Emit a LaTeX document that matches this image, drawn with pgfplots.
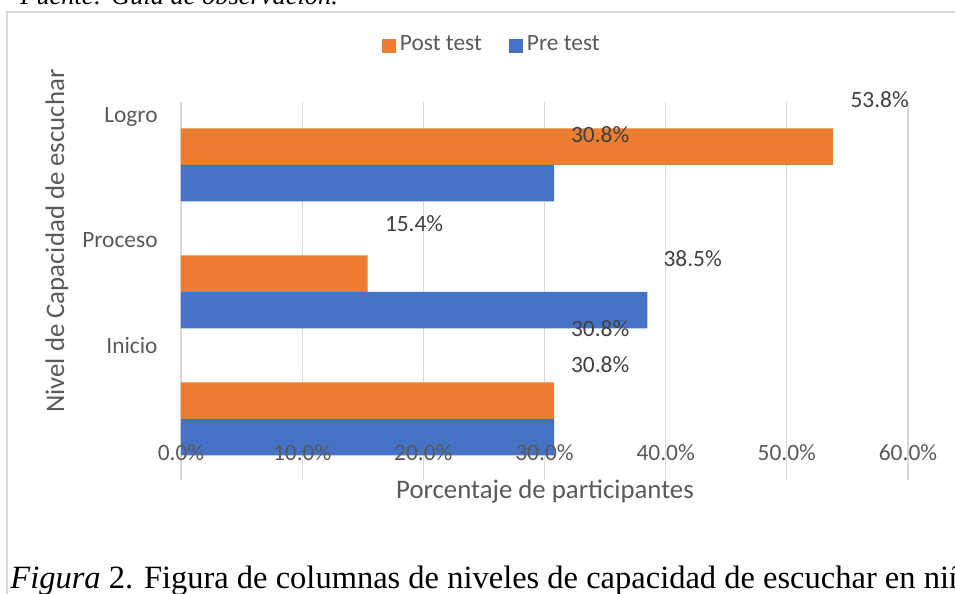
\documentclass[border=0pt]{standalone}
\usepackage{fontspec}
\setmainfont{Carlito}
\newfontfamily\capfont{Liberation Serif}
\usepackage{pgfplots}
\pgfplotsset{compat=1.18}
\definecolor{orng}{HTML}{ED7D31}
\definecolor{blu}{HTML}{4472C4}
\definecolor{gridgray}{HTML}{D9D9D9}
\definecolor{txtgray}{HTML}{595959}
\definecolor{lblgray}{HTML}{404040}
\newcommand\ticksize{\fontsize{11.7pt}{14pt}\selectfont}
\newcommand\titlesize{\fontsize{13.4pt}{16pt}\selectfont}
\begin{document}
\begin{tikzpicture}
\useasboundingbox (0,0) rectangle (477.5pt,297pt);
\clip (0,0) rectangle (477.5pt,297pt);
% chart frame
\draw[gridgray, line width=0.65pt] (3.5pt,-5pt) -- (3.5pt,291pt) -- (490pt,291pt);
% text above (cut off)
\node[anchor=base west, inner sep=0pt, font=\capfont\fontsize{13.2pt}{16pt}\selectfont\itshape] at (10pt,294.8pt) {Fuente: Guía de observación.};
% caption
\node[anchor=base west, inner sep=0pt, font=\capfont\fontsize{16.25pt}{19pt}\selectfont] at (5pt,2.5pt) {\textit{Figura} 2. Figura de columnas de niveles de capacidad de escuchar en niños y niñas};
\begin{axis}[
  at={(90.5pt,57pt)}, anchor=south west,
  scale only axis, width=363.5pt, height=189pt,
  xmin=0, xmax=60, ymin=-0.4803, ymax=2.496,
  xbar, bar width=0.2874,
  axis line style={draw=none}, tick style={draw=none},
  major tick length=0pt,
  xmajorgrids, grid style={color=gridgray, line width=0.65pt},
  xtick={0,10,20,30,40,50,60},
  xticklabels={},
  ytick={0.575,1.409,2.378},
  yticklabels={Inicio,Proceso,Logro},
  yticklabel style={anchor=east, inner sep=0pt, xshift=-11.5pt, font=\ticksize, text=txtgray},
  xlabel={Porcentaje de participantes},
  xlabel style={at={(axis description cs:0.5007,-0.0317)}, anchor=center, font=\titlesize, text=txtgray},
  ylabel={Nivel de Capacidad de escuchar},
  ylabel style={at={(axis description cs:-0.1706,0.632)}, anchor=center, rotate=0, font=\titlesize, text=txtgray},
  legend columns=2,
  legend style={at={(axis description cs:0.429,1.151)}, anchor=center, draw=none, fill=none,
    font=\ticksize, text=txtgray, /tikz/every even column/.append style={column sep=11.5pt}},
  clip=false,
]
\addplot[fill=orng, draw=none, bar shift=0.1437,
  legend image code/.code={\fill[orng] (0pt,-4pt) rectangle (7pt,3pt);}]
  coordinates {(53.8,2) (15.4,1) (30.8,0)};
\addlegendentry{Post test}
\addplot[fill=blu, draw=none, bar shift=-0.1437,
  legend image code/.code={\fill[blu] (0pt,-4pt) rectangle (7pt,3pt);}]
  coordinates {(30.8,2) (38.5,1) (30.8,0)};
\addlegendentry{Pre test}
% x tick labels (drawn over the bars, as in the reference)
\begin{scope}[every node/.style={font=\ticksize, text=txtgray, inner sep=0pt, anchor=center}]
\node at (axis cs:0,-0.268) {0.0\%};
\node at (axis cs:10,-0.268) {10.0\%};
\node at (axis cs:20,-0.268) {20.0\%};
\node at (axis cs:30,-0.268) {30.0\%};
\node at (axis cs:40,-0.268) {40.0\%};
\node at (axis cs:50,-0.268) {50.0\%};
\node at (axis cs:60,-0.268) {60.0\%};
\end{scope}
% data labels
\begin{scope}[every node/.style={font=\ticksize, text=lblgray, inner sep=0pt, anchor=center}]
\node at (axis cs:57.66,2.512) {53.8\%};
\node at (axis cs:34.6,2.240) {30.8\%};
\node at (axis cs:19.24,1.535) {15.4\%};
\node at (axis cs:42.23,1.262) {38.5\%};
\node at (axis cs:34.6,0.709) {30.8\%};
\node at (axis cs:34.6,0.428) {30.8\%};
\end{scope}
\end{axis}
\end{tikzpicture}
\end{document}
